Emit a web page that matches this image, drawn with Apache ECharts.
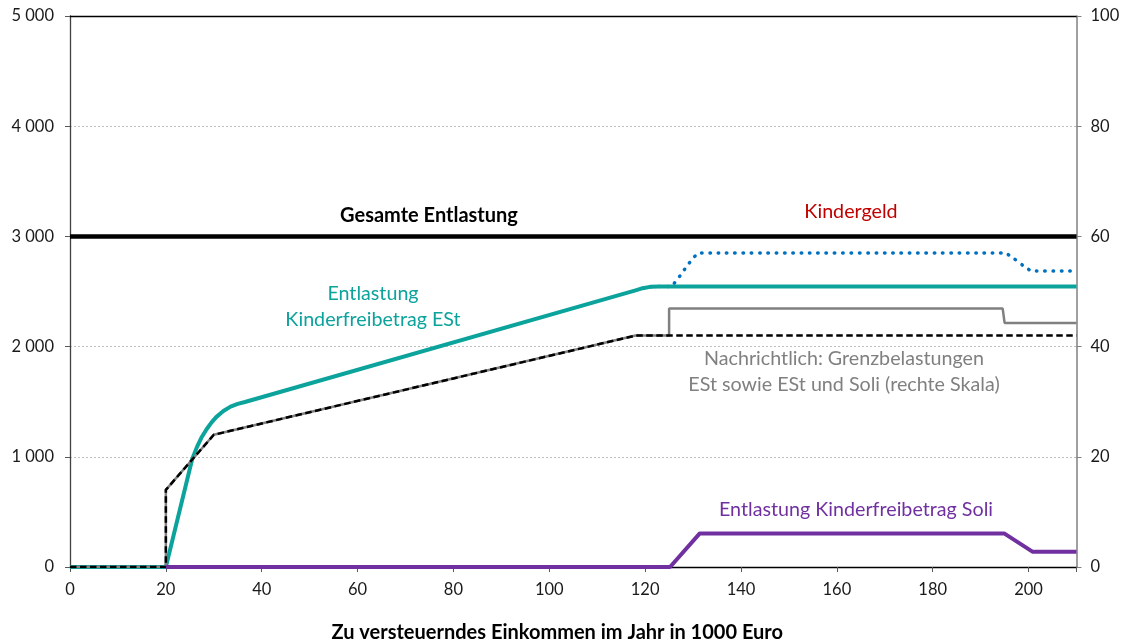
<!DOCTYPE html>
<html>
<head>
<meta charset="utf-8">
<script src="https://cdn.jsdelivr.net/npm/echarts@6/dist/echarts.min.js"></script>
<style>
html,body{margin:0;padding:0;background:#fff;}
#chart{width:1129px;height:641px;}
</style>
</head>
<body>
<div id="chart"></div>
<script>
// ---- Data (x in 1000 Euro) ----
const xTicks = [0, 20, 40, 60, 80, 100, 120, 140, 160, 180, 200];
const leftTicks = [0, 1000, 2000, 3000, 4000, 5000];
const rightTicks = [0, 20, 40, 60, 80, 100];

// Gesamte Entlastung (Euro, left axis)
const gesamteEntlastung = [[0, 3000], [210, 3000]];
// Entlastung Kinderfreibetrag ESt (Euro, left axis)
const entlastungESt = [[0, 0], [20, 0], [25.5, 980], [26.5, 1090], [27.5, 1180], [28.5, 1250], [29.5, 1310], [30.5, 1360], [32, 1415], [33.5, 1455], [35, 1480], [36.5, 1497], [118, 2510], [119.5, 2530], [121, 2542], [123, 2545], [210, 2545]];
// Entlastung ESt + Soli (Euro, left axis, dotted)
const entlastungGesamtSteuer = [[119.5, 2530], [121, 2542], [123, 2545], [125.2, 2545], [131.4, 2850], [194.9, 2850], [200.8, 2686], [210, 2686]];
// Entlastung Kinderfreibetrag Soli (Euro, left axis)
const entlastungSoli = [[20, 0], [125.2, 0], [131.4, 305], [194.9, 305], [200.8, 139], [210, 139]];
// Grenzbelastung ESt (%, right axis)
const grenzESt = [[0, 0], [20, 0], [20, 14], [30, 24], [118, 42], [210, 42]];
// Grenzbelastung ESt und Soli (%, right axis)
const grenzEStSoli = [[0, 0], [20, 0], [20, 14], [30, 24], [118, 42], [125, 42], [125, 46.9], [194.6, 46.9], [195, 44.3], [210, 44.3]];

const FONT = 'Lato';
const fmtThousands = v => String(v).replace(/\B(?=(\d{3})+(?!\d))/g, ' ');

const chart = echarts.init(document.getElementById('chart'), null, {renderer: 'canvas'});
const option = {
  backgroundColor: '#ffffff',
  animation: false,
  textStyle: {fontFamily: FONT},
  grid: {left: 70, right: 52.5, top: 16, bottom: 74, containLabel: false, outerBoundsMode: 'none'},
  xAxis: [{
    type: 'value', min: 0, max: 210, interval: 20,
    axisLine: {show: true, onZero: false, lineStyle: {color: '#000', width: 1.3}},
    axisTick: {show: true, length: 5, lineStyle: {color: '#595959'}},
    axisLabel: {color: '#1a1a1a', fontSize: 16.5, fontFamily: FONT, margin: 14,
      formatter: v => (xTicks.indexOf(v) >= 0 ? String(v) : '')},
    splitLine: {show: false},
    name: 'Zu versteuerndes Einkommen im Jahr in 1000 Euro',
    nameLocation: 'middle', nameGap: 56,
    nameTextStyle: {fontFamily: FONT, fontWeight: 'bold', fontSize: 20, color: '#000', padding: [0, 32, 0, 0]}
  }, {
    type: 'value', min: 0, max: 210, position: 'top',
    axisLine: {show: true, onZero: false, lineStyle: {color: '#000', width: 1.3}},
    axisTick: {show: false}, axisLabel: {show: false}, splitLine: {show: false}
  }],
  yAxis: [{
    type: 'value', min: 0, max: 5000, interval: 1000,
    axisLine: {show: true, onZero: false, lineStyle: {color: '#404040', width: 1.3}},
    axisTick: {show: true, length: 5, lineStyle: {color: '#595959'}},
    axisLabel: {color: '#1a1a1a', fontSize: 16.5, fontFamily: FONT, margin: 16,
      formatter: v => (leftTicks.indexOf(v) >= 0 ? fmtThousands(v) : '')},
    splitLine: {show: true, lineStyle: {color: '#bfbfbf', type: [2, 2], width: 1}}
  }, {
    type: 'value', min: 0, max: 100, interval: 20, position: 'right',
    axisLine: {show: true, onZero: false, lineStyle: {color: '#808080', width: 1.5}},
    axisTick: {show: true, length: 5, lineStyle: {color: '#808080'}},
    axisLabel: {color: '#1a1a1a', fontSize: 16.5, fontFamily: FONT, margin: 14,
      formatter: v => (rightTicks.indexOf(v) >= 0 ? String(v) : '')},
    splitLine: {show: false}
  }],
  series: [
    {name: 'Entlastung Kinderfreibetrag ESt (gesamt)', type: 'line', data: entlastungGesamtSteuer, yAxisIndex: 0,
      showSymbol: false, smooth: 0.15, z: 2,
      lineStyle: {color: '#0070C0', width: 3.5, type: [0.5, 7.8], cap: 'round'}},
    {name: 'Entlastung Kinderfreibetrag ESt', type: 'line', data: entlastungESt, yAxisIndex: 0,
      showSymbol: false, z: 3,
      lineStyle: {color: '#0BA39B', width: 4, join: 'round'}},
    {name: 'Grenzbelastung ESt und Soli', type: 'line', data: grenzEStSoli, yAxisIndex: 1,
      showSymbol: false, z: 4,
      lineStyle: {color: '#808080', width: 2.5}},
    {name: 'Grenzbelastung ESt', type: 'line', data: grenzESt, yAxisIndex: 1,
      showSymbol: false, z: 5,
      lineStyle: {color: '#000', width: 2.5, type: [6.5, 3.5]}},
    {name: 'Entlastung Kinderfreibetrag Soli', type: 'line', data: entlastungSoli, yAxisIndex: 0,
      showSymbol: false, z: 6,
      lineStyle: {color: '#7030A0', width: 4}},
    {name: 'Gesamte Entlastung', type: 'line', data: gesamteEntlastung, yAxisIndex: 0,
      showSymbol: false, z: 7,
      lineStyle: {color: '#000', width: 4.5}}
  ],
  graphic: [
    {type: 'text', x: 429, y: 216, z: 100, style: {text: 'Gesamte Entlastung', fill: '#000', font: 'bold 20px ' + FONT, textAlign: 'center', textVerticalAlign: 'middle'}},
    {type: 'text', x: 851, y: 212, z: 100, style: {text: 'Kindergeld', fill: '#C00000', font: '19.7px ' + FONT, textAlign: 'center', textVerticalAlign: 'middle'}},
    {type: 'text', x: 373, y: 294, z: 100, style: {text: 'Entlastung', fill: '#0BA39B', font: '19.7px ' + FONT, textAlign: 'center', textVerticalAlign: 'middle'}},
    {type: 'text', x: 373, y: 320, z: 100, style: {text: 'Kinderfreibetrag ESt', fill: '#0BA39B', font: '19.7px ' + FONT, textAlign: 'center', textVerticalAlign: 'middle'}},
    {type: 'text', x: 844, y: 359, z: 100, style: {text: 'Nachrichtlich: Grenzbelastungen', fill: '#808080', font: '19.7px ' + FONT, textAlign: 'center', textVerticalAlign: 'middle'}},
    {type: 'text', x: 844, y: 385, z: 100, style: {text: 'ESt sowie ESt und Soli (rechte Skala)', fill: '#808080', font: '19.7px ' + FONT, textAlign: 'center', textVerticalAlign: 'middle'}},
    {type: 'text', x: 856, y: 510, z: 100, style: {text: 'Entlastung Kinderfreibetrag Soli', fill: '#7030A0', font: '19.7px ' + FONT, textAlign: 'center', textVerticalAlign: 'middle'}}
  ]
};
chart.setOption(option);
</script>
</body>
</html>
